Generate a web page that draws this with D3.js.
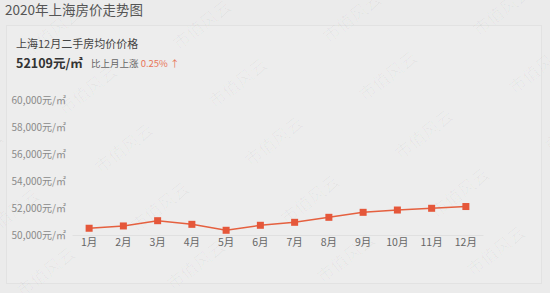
<!DOCTYPE html>
<html>
<head>
<meta charset="utf-8">
<title>2020年上海房价走势图</title>
<script src="https://cdn.jsdelivr.net/npm/d3@7"></script>
<style>
body {
  margin: 0;
  background: #ebebeb;
  font-family: "Noto Sans CJK SC", "Noto Sans", sans-serif;
}
#chart {
  width: 550px;
  height: 293px;
}
</style>
</head>
<body>
<div id="chart"></div>
<script>
var months = ["1月","2月","3月","4月","5月","6月","7月","8月","9月","10月","11月","12月"];
var prices = [50500, 50670, 51060, 50790, 50350, 50720, 50940, 51310, 51680, 51850, 51979, 52109];
var yTicks = [50000, 52000, 54000, 56000, 58000, 60000];

var W = 550, H = 293;
var svg = d3.select('#chart').append('svg')
  .attr('width', W)
  .attr('height', H);

svg.append('rect')
  .attr('x', 6.5).attr('y', 25.5)
  .attr('width', 535).attr('height', 258)
  .attr('fill', '#ededed')
  .attr('stroke', '#e2e2e2');

// titles
svg.append('text')
  .attr('x', 5).attr('y', 15)
  .attr('font-size', 13.5).attr('fill', '#555')
  .text('2020年上海房价走势图');

svg.append('text')
  .attr('x', 16).attr('y', 48)
  .attr('font-size', 11).attr('fill', '#444')
  .text('上海12月二手房均价价格');

svg.append('text')
  .attr('x', 16).attr('y', 68)
  .attr('font-size', 12.5).attr('font-weight', 'bold').attr('fill', '#333')
  .text('52109元/㎡');

var sub = svg.append('text')
  .attr('x', 91).attr('y', 67)
  .attr('font-size', 9.5).attr('fill', '#666');
sub.append('tspan').text('比上月上涨 ');
sub.append('tspan').attr('fill', '#e8765a').text('0.25% ↑');

var x = d3.scaleBand().domain(months).range([72, 483]);
var y = d3.scaleLinear().domain([50000, 60000]).range([235, 100]);

// y axis labels
svg.append('g')
  .attr('transform', 'translate(66,0)')
  .call(d3.axisLeft(y).tickValues(yTicks).tickSize(0).tickPadding(0)
    .tickFormat(function(d) { return d3.format(',')(d) + '元/㎡'; }))
  .call(function(g) {
    g.select('.domain').remove();
    g.selectAll('text')
      .attr('fill', '#8a8a8a')
      .attr('font-size', 10)
      .attr('font-family', '"Noto Sans CJK SC", sans-serif');
  });

// x axis
svg.append('g')
  .attr('transform', 'translate(0,235)')
  .call(d3.axisBottom(x).tickSize(0).tickPadding(4))
  .call(function(g) {
    g.select('.domain').attr('stroke', '#e0e0e0');
    g.selectAll('text')
      .attr('fill', '#666')
      .attr('font-size', 10.5)
      .attr('font-family', '"Noto Sans CJK SC", sans-serif');
  });

// watermarks
var wm = svg.append('g')
  .attr('fill', 'rgba(0,0,0,0.045)')
  .attr('font-size', 17)
  .attr('font-weight', 300)
  .attr('font-family', '"Noto Sans CJK SC", serif');
for (var j = -1; j < 5; j++) {
  for (var i = -1; i < 5; i++) {
    var cx = 52 + 150 * i + 36 * j;
    var cy = 32 + 60 * j - 0.047 * (cx - 52);
    wm.append('text')
      .attr('text-anchor', 'middle')
      .attr('transform', 'translate(' + cx + ',' + cy + ') rotate(-38)')
      .attr('dy', '0.35em')
      .text('市值风云');
  }
}

// line
var line = d3.line()
  .x(function(d, i) { return x(months[i]) + x.bandwidth() / 2; })
  .y(function(d) { return y(d); });

svg.append('path')
  .datum(prices)
  .attr('d', line)
  .attr('fill', 'none')
  .attr('stroke', '#e5603f')
  .attr('stroke-width', 1.5);

svg.selectAll('.pt')
  .data(prices)
  .enter().append('rect')
  .attr('class', 'pt')
  .attr('x', function(d, i) { return x(months[i]) + x.bandwidth() / 2 - 3.5; })
  .attr('y', function(d) { return y(d) - 3.5; })
  .attr('width', 7)
  .attr('height', 7)
  .attr('fill', '#e5573a');
</script>
</body>
</html>
